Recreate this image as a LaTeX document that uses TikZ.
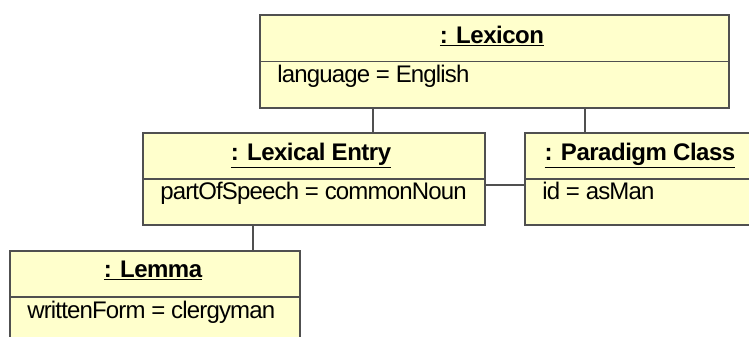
\documentclass[tikz,border=0pt]{standalone}
\usepackage{fontspec}
\setmainfont{Liberation Sans}
\newfontfamily\attrfont[LetterSpace=-3.5]{Liberation Sans}
\newfontfamily\namefont[LetterSpace=-2]{Liberation Sans}
\definecolor{objfill}{HTML}{FFFFCC}
\definecolor{objline}{HTML}{505050}
\newcommand{\objname}[1]{\underline{#1}}
\begin{document}
\begin{tikzpicture}[x=0.75pt,y=-0.75pt,
  objbox/.style={draw=objline, fill=objfill, line width=1.4pt, inner sep=0pt,
    anchor=north west, minimum height=69pt},
  objtitle/.style={anchor=base, inner sep=0pt, font=\fontsize{18}{21}\namefont\bfseries},
  objattr/.style={anchor=base west, inner sep=0pt, font=\fontsize{18}{21}\attrfont},
  link/.style={draw=objline, line width=1.4pt},
  divider/.style={draw=objline, line width=1.4pt}]
\clip (0,0) rectangle (749,336);
\fill[white] (0,0) rectangle (749,336);

% object boxes
\node[objbox, minimum width=351.75pt, minimum height=69.75pt] (lexicon) at (259,14) {};
\node[objbox, minimum width=256.5pt] (entry) at (142,132) {};
\node[objbox, minimum width=174pt] (paradigm) at (524,132) {};
\node[objbox, minimum width=217.5pt] (lemma) at (9,250) {};

% compartment dividers
\foreach \b in {lexicon,entry,paradigm,lemma}
  \draw[divider] (\b.west) -- (\b.east);

% titles and attributes
\node[objtitle] (lexiconT) at (492,43) {\objname{: Lexicon}};
\node[objattr] (lexiconA) at (277,82) {language = English};
\node[objtitle] (entryT) at (311,160) {\objname{: Lexical Entry}};
\node[objattr] (entryA) at (160,199) {partOfSpeech = commonNoun};
\node[objtitle] (paradigmT) at (640,160) {\objname{: Paradigm Class}};
\node[objattr] (paradigmA) at (542,199) {id = asMan};
\node[objtitle] (lemmaT) at (153,277) {\objname{: Lemma}};
\node[objattr] (lemmaA) at (27,318) {writtenForm = clergyman};

% links
\coordinate (xa) at (373,0);
\coordinate (xb) at (585,0);
\coordinate (xc) at (253,0);
\coordinate (yd) at (0,185);
\draw[link] (lexicon.south -| xa) -- (entry.north -| xa);
\draw[link] (lexicon.south -| xb) -- (paradigm.north -| xb);
\draw[link] (entry.east |- yd) -- (paradigm.west |- yd);
\draw[link] (entry.south -| xc) -- (lemma.north -| xc);
\end{tikzpicture}
\end{document}
